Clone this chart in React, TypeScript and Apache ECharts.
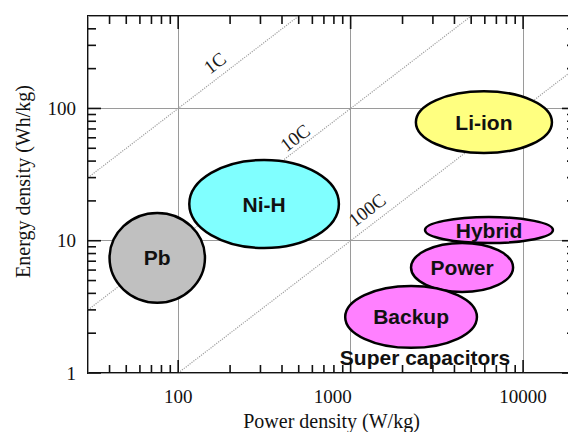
import React, { useEffect, useRef } from 'react';
import * as echarts from 'echarts';

// ---- data ----
const categories = ['Pb', 'Ni-H', 'Li-ion', 'Hybrid', 'Power', 'Backup'];
const powerMin = [40, 116, 2390, 2700, 2240, 930];
const powerMax = [143, 855, 14700, 14900, 8750, 5400];
const energyMin = [3.4, 8.8, 46, 9.6, 4.1, 1.55];
const energyMax = [16.2, 40.8, 135, 15.1, 9.6, 4.55];

const cRateNames = ['1C', '10C', '100C'];
const cRateStart = [[30, 30], [30, 3], [100, 1]];
const cRateEnd = [[500, 500], [5000, 500], [20000, 200]];
const cRateLabelAt = [[163, 221], [476, 60], [1245, 17.1]];

const groupLabel = 'Super capacitors';
const groupLabelAt = [2700, 1.31];

const xTickValues = [100, 1000, 10000];
const xTickLabels = ['100', '1000', '10000'];
const yTickValues = [1, 10, 100];
const yTickLabels = ['1', '10', '100'];
const xMinorTicks = [40, 50, 60, 70, 80, 90, 200, 300, 400, 500, 600, 700, 800, 900, 2000, 3000, 4000, 5000, 6000, 7000, 8000, 9000];
const yMinorTicks = [2, 3, 4, 5, 6, 7, 8, 9, 20, 30, 40, 50, 60, 70, 80, 90, 200, 300, 400];

const xName = 'Power density (W/kg)';
const yName = 'Energy density (Wh/kg)';

// ---- styles ----
const fills: Record<string, string> = {
  'Pb': '#c0c0c0',
  'Ni-H': '#80ffff',
  'Li-ion': '#ffff80',
  'Hybrid': '#ff80ff',
  'Power': '#ff80ff',
  'Backup': '#ff80ff',
};
const SERIF = '"Liberation Serif", "Times New Roman", serif';
const SANS = '"Liberation Sans", Arial, sans-serif';

function matchIndex(values: number[], v: number) {
  return values.findIndex((t) => Math.abs(t - v) / t < 1e-6);
}

function tickSeries(values: number[], major: boolean, axis: 'x' | 'y') {
  return {
    type: 'custom',
    coordinateSystem: 'cartesian2d',
    silent: true,
    clip: false,
    z: 6,
    data: values.map((v) => (axis === 'x' ? [v, 10] : [100, v])),
    renderItem: (params: any, api: any) => {
      const cs = params.coordSys;
      const len = major ? 13 : 8;
      const style = { stroke: '#111', lineWidth: 1.6 };
      if (axis === 'x') {
        const px = api.coord([api.value(0), 10])[0];
        const yb = cs.y + cs.height;
        return {
          type: 'group',
          children: [
            { type: 'line', shape: { x1: px, y1: yb, x2: px, y2: yb - len }, style },
            { type: 'line', shape: { x1: px, y1: cs.y, x2: px, y2: cs.y + len }, style },
          ],
        };
      }
      const py = api.coord([100, api.value(1)])[1];
      const xr = cs.x + cs.width;
      return {
        type: 'group',
        children: [
          { type: 'line', shape: { x1: cs.x, y1: py, x2: cs.x + len, y2: py }, style },
          { type: 'line', shape: { x1: xr, y1: py, x2: xr - len, y2: py }, style },
        ],
      };
    },
  };
}

export default function App() {
  const ref = useRef<HTMLDivElement>(null);

  useEffect(() => {
    if (!ref.current) return;
    const chart = echarts.init(ref.current, undefined, { renderer: 'svg' });

    const option: any = {
      animation: false,
      backgroundColor: '#fff',
      grid: {
        show: true,
        left: 88,
        top: 16,
        width: 487,
        height: 357,
        borderColor: '#111',
        borderWidth: 2,
        outerBoundsMode: 'none',
      },
      xAxis: {
        type: 'log',
        logBase: 10,
        min: 30,
        max: 20000,
        name: xName,
        nameLocation: 'middle',
        nameGap: 38,
        nameTextStyle: { fontFamily: SERIF, fontSize: 20, color: '#111' },
        axisLine: { show: false },
        axisTick: { show: false },
        splitLine: { show: true, lineStyle: { color: '#9a9a9a', width: 1 } },
        axisLabel: {
          margin: 14,
          fontFamily: SERIF,
          fontSize: 19,
          color: '#111',
          showMinLabel: true,
          showMaxLabel: true,
          formatter: (v: number) => {
            const i = matchIndex(xTickValues, v);
            if (i < 0) return '';
            return i === 1 ? `{shift|${xTickLabels[i]}}` : xTickLabels[i];
          },
          rich: {
            shift: { fontFamily: SERIF, fontSize: 19, color: '#111', padding: [0, 36, 0, 0] },
          },
        },
      },
      yAxis: {
        type: 'log',
        logBase: 10,
        min: 1,
        max: 500,
        name: yName,
        nameLocation: 'middle',
        nameGap: 55,
        nameTextStyle: { fontFamily: SERIF, fontSize: 20, color: '#111', padding: [0, 0, 0, 26] },
        axisLine: { show: false },
        axisTick: { show: false },
        splitLine: { show: true, lineStyle: { color: '#9a9a9a', width: 1 } },
        axisLabel: {
          margin: 12,
          fontFamily: SERIF,
          fontSize: 19,
          color: '#111',
          formatter: (v: number) => {
            const i = matchIndex(yTickValues, v);
            return i < 0 ? '' : yTickLabels[i];
          },
        },
      },
      series: [
        ...cRateNames.map((n, i) => ({
          type: 'line',
          name: n,
          z: 2,
          silent: true,
          symbol: 'none',
          data: [cRateStart[i], cRateEnd[i]],
          lineStyle: { type: 'dotted', color: '#a0a0a0', width: 1.2 },
        })),
        {
          type: 'scatter',
          z: 3,
          silent: true,
          symbolSize: 1,
          itemStyle: { color: 'rgba(0,0,0,0)', opacity: 1 },
          data: cRateNames.map((n, i) => ({ name: n, value: cRateLabelAt[i] })),
          label: {
            show: true,
            position: 'inside',
            formatter: '{b}',
            rotate: 37.5,
            fontFamily: SERIF,
            fontSize: 19,
            color: '#1a1a1a',
            opacity: 1,
          },
        },
        {
          type: 'custom',
          coordinateSystem: 'cartesian2d',
          z: 4,
          silent: true,
          encode: { x: [0, 2], y: [1, 3] },
          data: categories.map((c, i) => ({ name: c, value: [powerMin[i], energyMin[i], powerMax[i], energyMax[i]] })),
          renderItem: (params: any, api: any) => {
            const p1 = api.coord([api.value(0), api.value(1)]);
            const p2 = api.coord([api.value(2), api.value(3)]);
            const cx = (p1[0] + p2[0]) / 2;
            const cy = (p1[1] + p2[1]) / 2;
            const rx = Math.abs(p2[0] - p1[0]) / 2;
            const ry = Math.abs(p2[1] - p1[1]) / 2;
            const name = categories[params.dataIndex];
            return {
              type: 'group',
              children: [
                {
                  type: 'ellipse',
                  shape: { cx, cy, rx, ry },
                  style: { fill: fills[name], stroke: '#000', lineWidth: 2.5 },
                },
                {
                  type: 'text',
                  x: cx,
                  y: cy,
                  style: {
                    text: name,
                    fill: '#111',
                    fontFamily: SANS,
                    fontWeight: 'bold',
                    fontSize: 21,
                    align: 'center',
                    verticalAlign: 'middle',
                    textAlign: 'center',
                    textVerticalAlign: 'middle',
                  },
                },
              ],
            };
          },
        },
        {
          type: 'scatter',
          z: 5,
          silent: true,
          symbolSize: 1,
          itemStyle: { color: 'rgba(0,0,0,0)', opacity: 1 },
          data: [{ name: groupLabel, value: groupLabelAt }],
          label: {
            show: true,
            position: 'inside',
            formatter: '{b}',
            fontFamily: SANS,
            fontWeight: 'bold',
            fontSize: 21,
            color: '#111',
            opacity: 1,
          },
        },
        tickSeries(xTickValues, true, 'x'),
        tickSeries(xMinorTicks, false, 'x'),
        tickSeries(yTickValues, true, 'y'),
        tickSeries(yMinorTicks, false, 'y'),
      ],
    };

    chart.setOption(option);
    return () => chart.dispose();
  }, []);

  return (
    <div style={{ position: 'absolute', left: 0, top: 0, width: 568, height: 432, overflow: 'hidden', background: '#fff' }}>
      <div ref={ref} style={{ width: 590, height: 432 }} />
    </div>
  );
}
